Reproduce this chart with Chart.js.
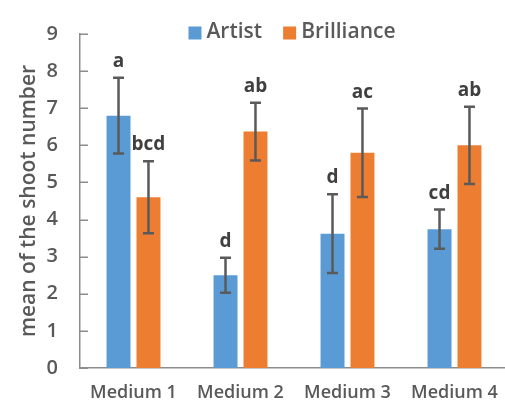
<!DOCTYPE html>
<html>
<head>
<meta charset="utf-8">
<script src="https://cdn.jsdelivr.net/npm/chart.js@4/dist/chart.umd.min.js"></script>
<style>
  html, body { margin: 0; padding: 0; background: #ffffff; overflow: hidden; }
  canvas { display: block; }
</style>
</head>
<body>
<canvas id="chart" width="512" height="406"></canvas>
<script>
// Shoot number per medium for two cultivars (mean ± error)
const categories = ['Medium 1', 'Medium 2', 'Medium 3', 'Medium 4'];
const seriesNames = ['Artist', 'Brilliance'];
const artistMeans = [6.8, 2.5, 3.62, 3.74];
const artistErrors = [1.02, 0.47, 1.06, 0.53];
const artistLetters = ['a', 'd', 'd', 'cd'];
const brillianceMeans = [4.6, 6.37, 5.8, 6.0];
const brillianceErrors = [0.97, 0.78, 1.19, 1.04];
const brillianceLetters = ['bcd', 'ab', 'ac', 'ab'];
const yTickValues = [0, 1, 2, 3, 4, 5, 6, 7, 8, 9];
const yAxisTitle = 'mean of the shoot number';

const FONT = '"Open Sans", "DejaVu Sans", sans-serif';
const TEXT_GREY = '#595959';
const AXIS_GREY = '#8c8c8c';

// error bars and significance letters on top of each bar
const errorBarPlugin = {
  id: 'errorBars',
  afterDatasetsDraw(chart) {
    const ctx = chart.ctx;
    const yScale = chart.scales.y;
    ctx.save();
    chart.data.datasets.forEach((ds, di) => {
      const meta = chart.getDatasetMeta(di);
      meta.data.forEach((bar, i) => {
        const mean = ds.data[i];
        const err = ds.errors[i];
        const yTop = yScale.getPixelForValue(mean + err);
        const yBot = yScale.getPixelForValue(mean - err);
        const x = bar.x;
        ctx.strokeStyle = '#5a5a5a';
        ctx.lineWidth = 2.5;
        ctx.lineCap = 'butt';
        ctx.beginPath();
        ctx.moveTo(x, yTop); ctx.lineTo(x, yBot);
        ctx.moveTo(x - 5.5, yTop); ctx.lineTo(x + 5.5, yTop);
        ctx.moveTo(x - 5.5, yBot); ctx.lineTo(x + 5.5, yBot);
        ctx.stroke();
        ctx.fillStyle = '#404040';
        ctx.font = 'bold 19px ' + FONT;
        ctx.textAlign = 'center';
        ctx.textBaseline = 'alphabetic';
        ctx.fillText(ds.letters[i], x, yTop - 11);
      });
    });
    ctx.restore();
  }
};

// inward tick marks on the value axis and a legend laid over the plot
const decorPlugin = {
  id: 'decor',
  afterDraw(chart) {
    const ctx = chart.ctx;
    const area = chart.chartArea;
    const yScale = chart.scales.y;
    ctx.save();
    ctx.strokeStyle = AXIS_GREY;
    ctx.lineWidth = 1.5;
    ctx.beginPath();
    yScale.ticks.forEach(t => {
      const y = Math.round(yScale.getPixelForValue(t.value)) + 0.25;
      ctx.moveTo(area.left, y);
      ctx.lineTo(area.left + 8, y);
    });
    ctx.stroke();

    // legend
    ctx.font = '600 21px ' + FONT;
    ctx.textBaseline = 'middle';
    ctx.textAlign = 'left';
    const sw = 13, gap = 5, itemGap = 21;
    const items = chart.data.datasets.map(ds => ({
      label: ds.label, color: ds.backgroundColor, w: ctx.measureText(ds.label).width
    }));
    let total = 0;
    items.forEach((it, k) => { total += sw + gap + it.w + (k ? itemGap : 0); });
    let x = (area.left + area.right) / 2 - 2 - total / 2;
    const cy = 33;
    items.forEach((it, k) => {
      if (k) x += itemGap;
      ctx.fillStyle = it.color;
      ctx.fillRect(x, cy - 6.5, sw, sw);
      x += sw + gap;
      ctx.fillStyle = TEXT_GREY;
      ctx.fillText(it.label, x, cy - 1);
      x += it.w;
    });
    ctx.restore();
  }
};

new Chart(document.getElementById('chart'), {
  type: 'bar',
  data: {
    labels: categories,
    datasets: [
      {
        label: seriesNames[0],
        data: artistMeans,
        errors: artistErrors,
        letters: artistLetters,
        backgroundColor: '#5b9bd5',
        barPercentage: 0.8,
        categoryPercentage: 0.56
      },
      {
        label: seriesNames[1],
        data: brillianceMeans,
        errors: brillianceErrors,
        letters: brillianceLetters,
        backgroundColor: '#ed7d31',
        barPercentage: 0.8,
        categoryPercentage: 0.56
      }
    ]
  },
  options: {
    responsive: false,
    animation: false,
    devicePixelRatio: 1,
    layout: { padding: { top: 18, right: 1, bottom: 0, left: 12 } },
    plugins: {
      legend: { display: false },
      tooltip: { enabled: false }
    },
    scales: {
      x: {
        grid: { display: false, drawTicks: false },
        border: { display: true, color: AXIS_GREY, width: 1.5 },
        ticks: { color: TEXT_GREY, font: { family: FONT, size: 18, weight: '600' }, padding: 14 },
        afterFit(scale) { scale.height = 38; }
      },
      y: {
        min: 0,
        max: 9,
        afterBuildTicks(scale) { scale.ticks = yTickValues.map(v => ({ value: v })); },
        grid: { display: false, drawTicks: false },
        border: { display: true, color: AXIS_GREY, width: 1.5 },
        ticks: { color: TEXT_GREY, font: { family: FONT, size: 20, weight: '600' }, padding: 22 },
        title: {
          display: true,
          text: yAxisTitle,
          color: TEXT_GREY,
          font: { family: FONT, size: 21, weight: '600' },
          padding: { top: 4, bottom: 4 }
        },
        afterFit(scale) { scale.width = 68; }
      }
    }
  },
  plugins: [errorBarPlugin, decorPlugin]
});
</script>
</body>
</html>
